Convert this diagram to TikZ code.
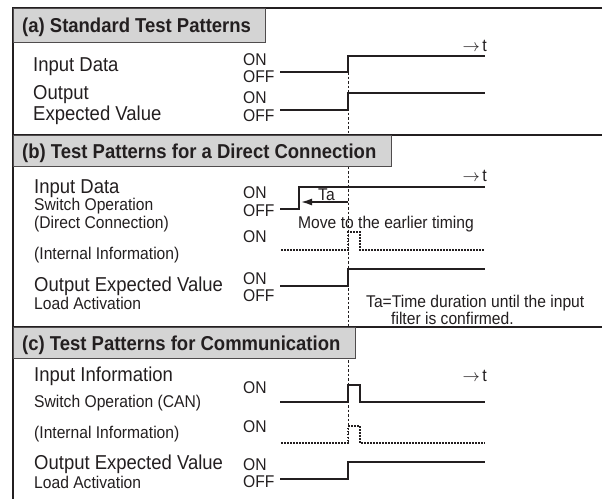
\documentclass[tikz,border=0pt]{standalone}
\usepackage{fontspec}
\setmainfont{Liberation Sans}[FakeStretch=0.92]
\usetikzlibrary{arrows.meta}
\definecolor{ink}{HTML}{231F20}
\definecolor{hdrfill}{HTML}{D4D4D4}
\begin{document}
\begin{tikzpicture}[x=1pt,y=-1pt,
  frame/.style={draw=ink, line width=1.1pt},
  hdrbox/.style={fill=hdrfill, draw=ink!80, line width=1pt},
  hdr/.style={anchor=west, inner sep=0pt, text height=14.4pt, text depth=0pt, font=\fontsize{20.1}{22}\selectfont\bfseries, text=ink},
  lab/.style={anchor=west, inner sep=0pt, text height=14.4pt, text depth=0pt, font=\fontsize{20.1}{22}\selectfont, text=ink},
  sub/.style={anchor=west, inner sep=0pt, text height=12.2pt, text depth=0pt, font=\fontsize{17}{18}\selectfont, text=ink},
  tlab/.style={anchor=east, inner sep=0pt, text height=12.5pt, text depth=0pt, font=\fontsize{17.4}{19}\selectfont, text=ink},
  sig/.style={draw=ink, line width=1.6pt},
  dots/.style={draw=ink, line width=1.2pt, dash pattern=on 1.5pt off 1.5pt},
  guide/.style={draw=ink, line width=0.8pt, dash pattern=on 2.5pt off 2pt},
]
\useasboundingbox (0,0) rectangle (608,499);
\fill[white] (0,0) rectangle (608,499);

% time reference guide
\draw[guide] (348,72) -- (348,443);

% frame
\draw[frame] (602,8) -- (13,8) -- (13,499);
\draw[frame] (13,135) -- (602,135);
\draw[frame] (13,327) -- (602,327);

% headers
\filldraw[hdrbox] (13,8) rectangle (265,42);
\filldraw[hdrbox] (13,135) rectangle (391,166);
\filldraw[hdrbox] (13,327) rectangle (355,358);
\node[hdr] (ha) at (22,25) {(a) Standard Test Patterns};
\node[hdr] (hb) at (22,151) {(b) Test Patterns for a Direct Connection};
\node[hdr] (hc) at (22,343) {(c) Test Patterns for Communication};

\newcommand{\timearrow}{{\fontsize{19}{20}\selectfont$\rightarrow$}\hspace{2.5pt}t}

% ---------- (a)
\node[tlab] (ta) at (487,45) {\timearrow};
\node[lab] (a1) at (33,64) {Input Data};
\node[sub] (a1on) at (243,59) {ON};
\node[sub] (a1off) at (243,76) {OFF};
\node[lab] (a2) at (33,92) {Output};
\node[lab] (a3) at (33,113) {Expected Value};
\node[sub] (a2on) at (243,97) {ON};
\node[sub] (a2off) at (243,115) {OFF};
\draw[sig] (280,72) -- (348,72) -- (348,56) -- (485,56);
\draw[sig] (280,110) -- (348,110) -- (348,93) -- (485,93);

% ---------- (b)
\node[tlab] (tb) at (487,175) {\timearrow};
\node[lab] (b1) at (34,186) {Input Data};
\node[sub] (b2) at (34,204) {Switch Operation};
\node[sub] (b3) at (34,222) {(Direct Connection)};
\node[sub] (b1on) at (243,192) {ON};
\node[sub] (b1off) at (243,210) {OFF};
\draw[sig] (280,209) -- (299,209) -- (299,187) -- (485,187);
\coordinate (taR) at (348,202);
\coordinate (taL) at (301,202);
\draw[sig, -{Latex[length=11pt,width=7pt]}] (taR) -- (taL);
\node[sub] (talab) at (318,194) {Ta};
\node[sub] (move) at (298,222) {Move to the earlier timing};
\node[sub] (b4on) at (243,236) {ON};
\node[sub] (b4) at (34,253) {(Internal Information)};
\draw[dots] (281,250) -- (348,250) -- (348,232) -- (360,232) -- (360,250) -- (485,250);
\node[lab] (b5) at (34,284) {Output Expected Value};
\node[sub] (b6) at (34,303) {Load Activation};
\node[sub] (b5on) at (243,278) {ON};
\node[sub] (b5off) at (243,295) {OFF};
\draw[sig] (280,286) -- (348,286) -- (348,269) -- (485,269);
\node[sub] (note1) at (366,301) {Ta=Time duration until the input};
\node[sub] (note2) at (391,318) {filter is confirmed.};

% ---------- (c)
\node[tlab] (tc) at (487,375) {\timearrow};
\node[lab] (c1) at (34,374) {Input Information};
\node[sub] (c2) at (34,401) {Switch Operation (CAN)};
\node[sub] (c1on) at (243,387) {ON};
\draw[sig] (280,402) -- (348,402) -- (348,385) -- (360,385) -- (360,402) -- (485,402);
\node[sub] (c3) at (34,432) {(Internal Information)};
\node[sub] (c3on) at (243,426) {ON};
\draw[dots] (281,443) -- (348,443) -- (348,426) -- (360,426) -- (360,443) -- (485,443);
\node[lab] (c4) at (34,462) {Output Expected Value};
\node[sub] (c5) at (34,482) {Load Activation};
\node[sub] (c4on) at (243,464) {ON};
\node[sub] (c4off) at (243,481) {OFF};
\draw[sig] (280,479) -- (348,479) -- (348,462) -- (485,462);
\end{tikzpicture}
\end{document}
